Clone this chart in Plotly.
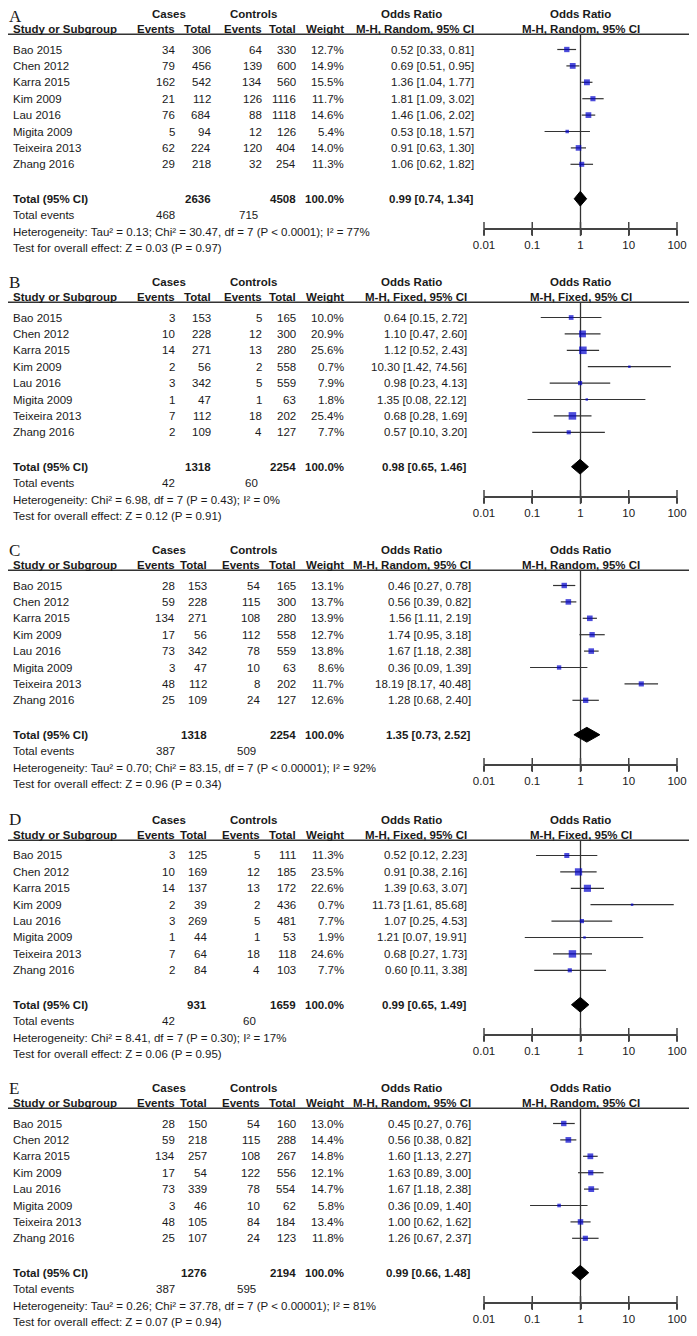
import plotly.graph_objects as go

studies = ['Bao 2015', 'Chen 2012', 'Karra 2015', 'Kim 2009', 'Lau 2016',
           'Migita 2009', 'Teixeira 2013', 'Zhang 2016']

# panel A
a_case_ev = [34, 79, 162, 21, 76, 5, 62, 29]
a_case_tot = [306, 456, 542, 112, 684, 94, 224, 218]
a_ctrl_ev = [64, 139, 134, 126, 88, 12, 120, 32]
a_ctrl_tot = [330, 600, 560, 1116, 1118, 126, 404, 254]
a_weight = [12.7, 14.9, 15.5, 11.7, 14.6, 5.4, 14.0, 11.3]
a_or = [0.52, 0.69, 1.36, 1.81, 1.46, 0.53, 0.91, 1.06]
a_lo = [0.33, 0.51, 1.04, 1.09, 1.06, 0.18, 0.63, 0.62]
a_hi = [0.81, 0.95, 1.77, 3.02, 2.02, 1.57, 1.30, 1.82]
a_total = [2636, 4508, 0.99, 0.74, 1.34]
a_events = [468, 715]
a_het = 'Heterogeneity: Tau² = 0.13; Chi² = 30.47, df = 7 (P < 0.0001); I² = 77%'
a_test = 'Test for overall effect: Z = 0.03 (P = 0.97)'

# panel B
b_case_ev = [3, 10, 14, 2, 3, 1, 7, 2]
b_case_tot = [153, 228, 271, 56, 342, 47, 112, 109]
b_ctrl_ev = [5, 12, 13, 2, 5, 1, 18, 4]
b_ctrl_tot = [165, 300, 280, 558, 559, 63, 202, 127]
b_weight = [10.0, 20.9, 25.6, 0.7, 7.9, 1.8, 25.4, 7.7]
b_or = [0.64, 1.10, 1.12, 10.30, 0.98, 1.35, 0.68, 0.57]
b_lo = [0.15, 0.47, 0.52, 1.42, 0.23, 0.08, 0.28, 0.10]
b_hi = [2.72, 2.60, 2.43, 74.56, 4.13, 22.12, 1.69, 3.20]
b_total = [1318, 2254, 0.98, 0.65, 1.46]
b_events = [42, 60]
b_het = 'Heterogeneity: Chi² = 6.98, df = 7 (P = 0.43); I² = 0%'
b_test = 'Test for overall effect: Z = 0.12 (P = 0.91)'

# panel C
c_case_ev = [28, 59, 134, 17, 73, 3, 48, 25]
c_case_tot = [153, 228, 271, 56, 342, 47, 112, 109]
c_ctrl_ev = [54, 115, 108, 112, 78, 10, 8, 24]
c_ctrl_tot = [165, 300, 280, 558, 559, 63, 202, 127]
c_weight = [13.1, 13.7, 13.9, 12.7, 13.8, 8.6, 11.7, 12.6]
c_or = [0.46, 0.56, 1.56, 1.74, 1.67, 0.36, 18.19, 1.28]
c_lo = [0.27, 0.39, 1.11, 0.95, 1.18, 0.09, 8.17, 0.68]
c_hi = [0.78, 0.82, 2.19, 3.18, 2.38, 1.39, 40.48, 2.40]
c_total = [1318, 2254, 1.35, 0.73, 2.52]
c_events = [387, 509]
c_het = 'Heterogeneity: Tau² = 0.70; Chi² = 83.15, df = 7 (P < 0.00001); I² = 92%'
c_test = 'Test for overall effect: Z = 0.96 (P = 0.34)'

# panel D
d_case_ev = [3, 10, 14, 2, 3, 1, 7, 2]
d_case_tot = [125, 169, 137, 39, 269, 44, 64, 84]
d_ctrl_ev = [5, 12, 13, 2, 5, 1, 18, 4]
d_ctrl_tot = [111, 185, 172, 436, 481, 53, 118, 103]
d_weight = [11.3, 23.5, 22.6, 0.7, 7.7, 1.9, 24.6, 7.7]
d_or = [0.52, 0.91, 1.39, 11.73, 1.07, 1.21, 0.68, 0.60]
d_lo = [0.12, 0.38, 0.63, 1.61, 0.25, 0.07, 0.27, 0.11]
d_hi = [2.23, 2.16, 3.07, 85.68, 4.53, 19.91, 1.73, 3.38]
d_total = [931, 1659, 0.99, 0.65, 1.49]
d_events = [42, 60]
d_het = 'Heterogeneity: Chi² = 8.41, df = 7 (P = 0.30); I² = 17%'
d_test = 'Test for overall effect: Z = 0.06 (P = 0.95)'

# panel E
e_case_ev = [28, 59, 134, 17, 73, 3, 48, 25]
e_case_tot = [150, 218, 257, 54, 339, 46, 105, 107]
e_ctrl_ev = [54, 115, 108, 122, 78, 10, 84, 24]
e_ctrl_tot = [160, 288, 267, 556, 554, 62, 184, 123]
e_weight = [13.0, 14.4, 14.8, 12.1, 14.7, 5.8, 13.4, 11.8]
e_or = [0.45, 0.56, 1.60, 1.63, 1.67, 0.36, 1.00, 1.26]
e_lo = [0.27, 0.38, 1.13, 0.89, 1.18, 0.09, 0.62, 0.67]
e_hi = [0.76, 0.82, 2.27, 3.00, 2.38, 1.40, 1.62, 2.37]
e_total = [1276, 2194, 0.99, 0.66, 1.48]
e_events = [387, 595]
e_het = 'Heterogeneity: Tau² = 0.26; Chi² = 37.78, df = 7 (P < 0.00001); I² = 81%'
e_test = 'Test for overall effect: Z = 0.07 (P = 0.94)'

tick_vals = [0.01, 0.1, 1, 10, 100]
tick_text = ['0.01', '0.1', '1', '10', '100']

panels = [
    dict(letter='A', method='Random', ce=a_case_ev, ct=a_case_tot, oe=a_ctrl_ev, ot=a_ctrl_tot,
         w=a_weight, est=a_or, lo=a_lo, hi=a_hi, tot=a_total, ev=a_events, het=a_het, test=a_test),
    dict(letter='B', method='Fixed', ce=b_case_ev, ct=b_case_tot, oe=b_ctrl_ev, ot=b_ctrl_tot,
         w=b_weight, est=b_or, lo=b_lo, hi=b_hi, tot=b_total, ev=b_events, het=b_het, test=b_test),
    dict(letter='C', method='Random', ce=c_case_ev, ct=c_case_tot, oe=c_ctrl_ev, ot=c_ctrl_tot,
         w=c_weight, est=c_or, lo=c_lo, hi=c_hi, tot=c_total, ev=c_events, het=c_het, test=c_test),
    dict(letter='D', method='Fixed', ce=d_case_ev, ct=d_case_tot, oe=d_ctrl_ev, ot=d_ctrl_tot,
         w=d_weight, est=d_or, lo=d_lo, hi=d_hi, tot=d_total, ev=d_events, het=d_het, test=d_test),
    dict(letter='E', method='Random', ce=e_case_ev, ct=e_case_tot, oe=e_ctrl_ev, ot=e_ctrl_tot,
         w=e_weight, est=e_or, lo=e_lo, hi=e_hi, tot=e_total, ev=e_events, het=e_het, test=e_test),
]

# the page body has an 8px margin all round: lay out in screen pixels,
# and size the figure so the page does not overflow the window
OFF = 8
W, H = 697 - 2 * OFF, 1336 - 2 * OFF

tops = [0, 268, 536, 806, 1074]
heights = [268, 268, 270, 268, 262]
ROW0, ROW_H = 49.5, 16.4
TOTAL_ROW, EVENTS_ROW, HET_ROW, TEST_ROW = 9.1, 10.1, 11.1, 12.1
AXIS_ROW = 10.95
HEAD1, HEAD2, RULE = -2.15, -1.25, -0.93
cols_ab = [176, 212, 263, 297, 345]
cols_cde = [176, 208, 261, 297, 345]
or_right = [475, 468, 472, 468, 472]
AX_L, AX_R = 484, 677
NULL_X = (AX_L + AX_R) / 2
FONT = 'Liberation Sans, Arial, sans-serif'
TXT = '#1a1a1a'


def px(x):
    return (x - OFF) / W


fig = go.Figure()
annotations = []
shapes = []

for k, p in enumerate(panels):
    n = '' if k == 0 else str(k + 1)
    xa, ya = 'x' + n, 'y' + n
    top, h = tops[k], heights[k]
    cols = cols_ab if k < 2 else cols_cde
    fs = 11.5

    f_top = max(top - OFF, 0)
    f_bot = min(top + h - OFF, H)
    r_top = (f_top + OFF - top - ROW0) / ROW_H
    r_bot = (f_bot + OFF - top - ROW0) / ROW_H
    axis_pos = 1 - (top + ROW0 + AXIS_ROW * ROW_H - OFF) / H

    fig.update_layout({
        'xaxis' + n: dict(type='log', range=[-2, 2], domain=[px(AX_L), px(AX_R)],
                          anchor='free', position=axis_pos, automargin=False,
                          ticklabeloverflow='allow',
                          showgrid=False, zeroline=False,
                          showline=True, linecolor='#444', linewidth=1.5,
                          ticks='outside', ticklen=5, tickwidth=1.5, tickcolor='#444',
                          tickvals=tick_vals, ticktext=tick_text,
                          tickfont=dict(family=FONT, size=11.5, color=TXT)),
        'yaxis' + n: dict(domain=[1 - f_bot / H, 1 - f_top / H], range=[r_bot, r_top],
                          anchor='free', position=0, visible=False, showgrid=False,
                          automargin=False),
    })

    rows = list(range(len(studies)))
    # null line
    fig.add_trace(go.Scatter(x=[1, 1], y=[RULE, AXIS_ROW], mode='lines', xaxis=xa, yaxis=ya,
                             line=dict(color='#333', width=1.3), showlegend=False, hoverinfo='skip'))
    # upper half of tick marks
    fig.add_trace(go.Scatter(x=tick_vals, y=[AXIS_ROW] * 5, mode='markers', xaxis=xa, yaxis=ya,
                             marker=dict(symbol='line-ns', size=10, line=dict(color='#444', width=1.5)),
                             cliponaxis=False, showlegend=False, hoverinfo='skip'))
    # confidence intervals
    for i in rows:
        fig.add_trace(go.Scatter(x=[p['lo'][i], p['hi'][i]], y=[i, i], mode='lines',
                                 xaxis=xa, yaxis=ya, line=dict(color='#333', width=1.2),
                                 showlegend=False, hoverinfo='skip'))
    # study squares
    fig.add_trace(go.Scatter(x=p['est'], y=rows, mode='markers', xaxis=xa, yaxis=ya,
                             marker=dict(symbol='square', color='#0000cc',
                                         size=[max(2.5, 1.5 * w ** 0.5) for w in p['w']],
                                         line=dict(width=0)),
                             showlegend=False, hoverinfo='skip'))
    # pooled diamond
    est, lo, hi = p['tot'][2], p['tot'][3], p['tot'][4]
    dh = 0.45
    fig.add_trace(go.Scatter(x=[lo, est, hi, est, lo],
                             y=[TOTAL_ROW, TOTAL_ROW - dh, TOTAL_ROW, TOTAL_ROW + dh, TOTAL_ROW],
                             mode='lines', fill='toself', fillcolor='black',
                             line=dict(color='black', width=1), xaxis=xa, yaxis=ya,
                             showlegend=False, hoverinfo='skip'))

    def txt(x, r, s, anchor='left', bold=False, size=fs, family=FONT, yanchor='middle'):
        annotations.append(dict(x=px(x), y=r, xref='paper', yref=ya,
                                text=f'<b>{s}</b>' if bold else s,
                                showarrow=False, xanchor=anchor, yanchor=yanchor, borderpad=0,
                                font=dict(family=family, size=size, color=TXT)))

    # panel letter, sitting just above the column header row
    letter_bottom = 27 if k == 0 else 24.5
    txt(8, (letter_bottom - ROW0) / ROW_H, p['letter'], size=17,
        family='Liberation Serif, serif', yanchor='bottom')
    # headers
    txt(169, HEAD1, 'Cases', 'center', True)
    txt(254, HEAD1, 'Controls', 'center', True)
    txt(412, HEAD1, 'Odds Ratio', 'center', True)
    txt(NULL_X, HEAD1, 'Odds Ratio', 'center', True)
    txt(12, HEAD2, 'Study or Subgroup', 'left', True)
    for x, s in zip(cols, ['Events', 'Total', 'Events', 'Total', 'Weight']):
        txt(x, HEAD2, s, 'right', True)
    ci_head = f"M-H, {p['method']}, 95% CI"
    txt(or_right[k], HEAD2, ci_head, 'right', True)
    txt(NULL_X, HEAD2, ci_head, 'center', True)
    shapes.append(dict(type='line', xref='paper', yref=ya, x0=0, x1=1, y0=RULE, y1=RULE,
                       line=dict(color='#333', width=1.3)))

    # study rows
    for i in rows:
        txt(12, i, studies[i])
        for x, v in zip(cols[:4], [p['ce'][i], p['ct'][i], p['oe'][i], p['ot'][i]]):
            txt(x, i, str(v), 'right')
        txt(cols[4], i, f"{p['w'][i]:.1f}%", 'right')
        txt(or_right[k], i, f"{p['est'][i]:.2f} [{p['lo'][i]:.2f}, {p['hi'][i]:.2f}]", 'right')

    # totals
    txt(12, TOTAL_ROW, 'Total (95% CI)', bold=True)
    txt(cols[1], TOTAL_ROW, str(p['tot'][0]), 'right', True)
    txt(cols[3], TOTAL_ROW, str(p['tot'][1]), 'right', True)
    txt(cols[4], TOTAL_ROW, '100.0%', 'right', True)
    txt(or_right[k], TOTAL_ROW, f'{est:.2f} [{lo:.2f}, {hi:.2f}]', 'right', True)
    txt(12, EVENTS_ROW, 'Total events')
    txt(cols[0], EVENTS_ROW, str(p['ev'][0]), 'right')
    txt(cols[2] - 4, EVENTS_ROW, str(p['ev'][1]), 'right')
    txt(12, HET_ROW, p['het'])
    txt(12, TEST_ROW, p['test'])

fig.update_layout(width=W, height=H, margin=dict(l=0, r=0, t=0, b=0, autoexpand=False),
                  paper_bgcolor='white', plot_bgcolor='rgba(0,0,0,0)',
                  annotations=annotations, shapes=shapes, showlegend=False)

fig.write_html('out.html')
